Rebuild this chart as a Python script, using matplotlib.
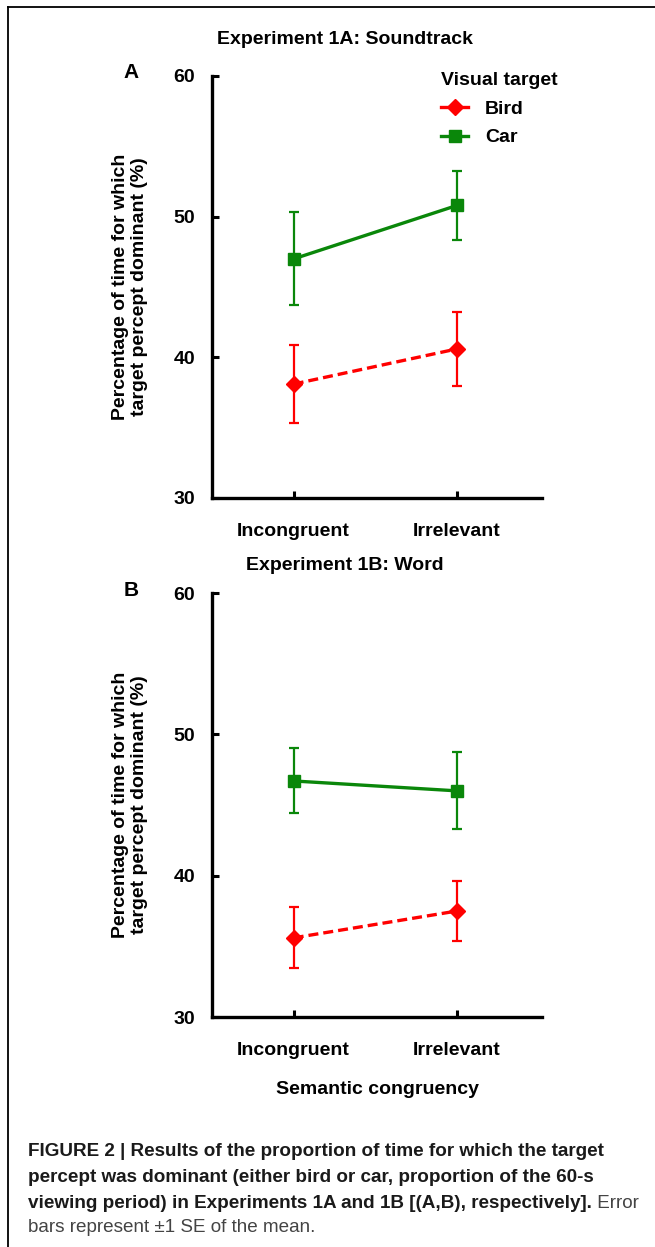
import matplotlib
matplotlib.use("Agg")
import matplotlib.pyplot as plt
from matplotlib.lines import Line2D

# ---------------- data ----------------
conditions = ["Incongruent", "Irrelevant"]
series = ["Bird", "Car"]

# Experiment 1A: Soundtrack
a_bird_mean = [38.1, 40.6]
a_bird_se = [2.75, 2.65]
a_car_mean = [47.0, 50.8]
a_car_se = [3.3, 2.45]

# Experiment 1B: Word
b_bird_mean = [35.6, 37.5]
b_bird_se = [2.15, 2.13]
b_car_mean = [46.7, 46.0]
b_car_se = [2.3, 2.73]

yticks = [30, 40, 50, 60]

panel_titles = ["Experiment 1A: Soundtrack", "Experiment 1B: Word"]
panel_letters = ["A", "B"]
ylabel = "Percentage of time for which\ntarget percept dominant (%)"
xlabel = "Semantic congruency"
legend_title = "Visual target"

caption_bold = ["FIGURE 2 | Results of the proportion of time for which the target",
                "percept was dominant (either bird or car, proportion of the 60-s",
                "viewing period) in Experiments 1A and 1B [(A,B), respectively]."]
caption_reg_tail = " Error"
caption_last = "bars represent \u00b11 SE of the mean."

# ---------------- style ----------------
FONT = ["Liberation Sans", "DejaVu Sans"]
CAPFONT = ["Liberation Sans", "DejaVu Sans"]
plt.rcParams["font.family"] = FONT
RED = "#ff0000"
GREEN = "#0a870a"
FS = 14
W, H = 655, 1247
fig = plt.figure(figsize=(W / 100, H / 100), dpi=100)

def fx(px):
    return px / W

def fy(py):
    return 1 - py / H

# frame
fig.add_artist(Line2D([fx(8), 1.0], [fy(7), fy(7)], color="black", lw=1.3,
                      transform=fig.transFigure))
fig.add_artist(Line2D([fx(8), fx(8)], [fy(7), 0.0], color="black", lw=1.3,
                      transform=fig.transFigure))

panels = [
    dict(top=76, bottom=498, bird=(a_bird_mean, a_bird_se), car=(a_car_mean, a_car_se),
         title_y=40, letter_y=73, legend=True),
    dict(top=593, bottom=1017, bird=(b_bird_mean, b_bird_se), car=(b_car_mean, b_car_se),
         title_y=566, letter_y=590, legend=False),
]

xpos = [1, 2]
for i, p in enumerate(panels):
    left, right = 212, 542
    ax = fig.add_axes([fx(left), fy(p["bottom"]), fx(right) - fx(left),
                       fy(p["top"]) - fy(p["bottom"])])
    ax.set_xlim(0.5, 2.52)
    ax.set_ylim(30, 60)
    for s in ["top", "right"]:
        ax.spines[s].set_visible(False)
    for s in ["left", "bottom"]:
        ax.spines[s].set_linewidth(2.4)
        ax.spines[s].set_capstyle("projecting")
    ax.set_yticks(yticks)
    ax.set_yticklabels([str(t) for t in yticks], fontsize=FS, fontweight="bold")
    ax.set_xticks(xpos)
    ax.set_xticklabels(conditions, fontsize=FS, fontweight="bold")
    ax.tick_params(axis="both", direction="in", length=5, width=2.2)
    ax.tick_params(axis="y", pad=12)
    ax.tick_params(axis="x", pad=18)
    ax.patch.set_alpha(0)

    bm, bs = p["bird"]
    cm, cs = p["car"]
    ax.errorbar(xpos, bm, yerr=bs, color=RED, marker="D", markersize=8,
                lw=2.4, dashes=(3.0, 1.5), elinewidth=1.6, capsize=3.5,
                capthick=1.6, clip_on=False, zorder=3)
    ax.errorbar(xpos, cm, yerr=cs, color=GREEN, marker="s", markersize=9,
                lw=2.4, elinewidth=1.6, capsize=3.5, capthick=1.6,
                clip_on=False, zorder=3)

    fig.text(fx(345), fy(p["title_y"]), panel_titles[i], ha="center", va="center",
             fontsize=FS, fontweight="bold")
    fig.text(fx(131), fy(p["letter_y"]), panel_letters[i], ha="center", va="center",
             fontsize=15, fontweight="bold")
    fig.text(fx(130), fy((p["top"] + p["bottom"]) / 2), ylabel, rotation=90,
             ha="center", va="center", fontsize=FS, fontweight="bold",
             linespacing=1.2, multialignment="center")

    if p["legend"]:
        handles = [
            Line2D([], [], color=RED, marker="D", markersize=8, lw=2.4),
            Line2D([], [], color=GREEN, marker="s", markersize=9, lw=2.4),
        ]
        leg = fig.legend(handles, series, title=legend_title, loc="upper left",
                         bbox_to_anchor=(fx(441), fy(72)), frameon=False,
                         prop=dict(size=FS, weight="bold"),
                         title_fontproperties=dict(size=FS, weight="bold"),
                         handlelength=1.4, handletextpad=0.85, labelspacing=0.57,
                         borderpad=0, borderaxespad=0, alignment="left")

fig.text(fx(377), fy(1089), xlabel, ha="center", va="center", fontsize=FS,
         fontweight="bold")

# caption
cap_x = fx(28)
cap_ys = [1152, 1178, 1203, 1228]
cap_size = 13.6
texts = []
for k, line in enumerate(caption_bold):
    t = fig.text(cap_x, fy(cap_ys[k]), line, ha="left", va="center",
                 fontsize=cap_size, fontweight="bold", family=CAPFONT, color="#1a1a1a")
    texts.append(t)
renderer = fig.canvas.get_renderer()
bb = texts[2].get_window_extent(renderer=renderer)
fig.text(bb.x1 / W, fy(cap_ys[2]), caption_reg_tail, ha="left", va="center",
         fontsize=cap_size, family=CAPFONT, color="#444444")
fig.text(cap_x, fy(cap_ys[3]), caption_last, ha="left", va="center",
         fontsize=cap_size, family=CAPFONT, color="#444444")

fig.savefig("out.png", dpi=100)
